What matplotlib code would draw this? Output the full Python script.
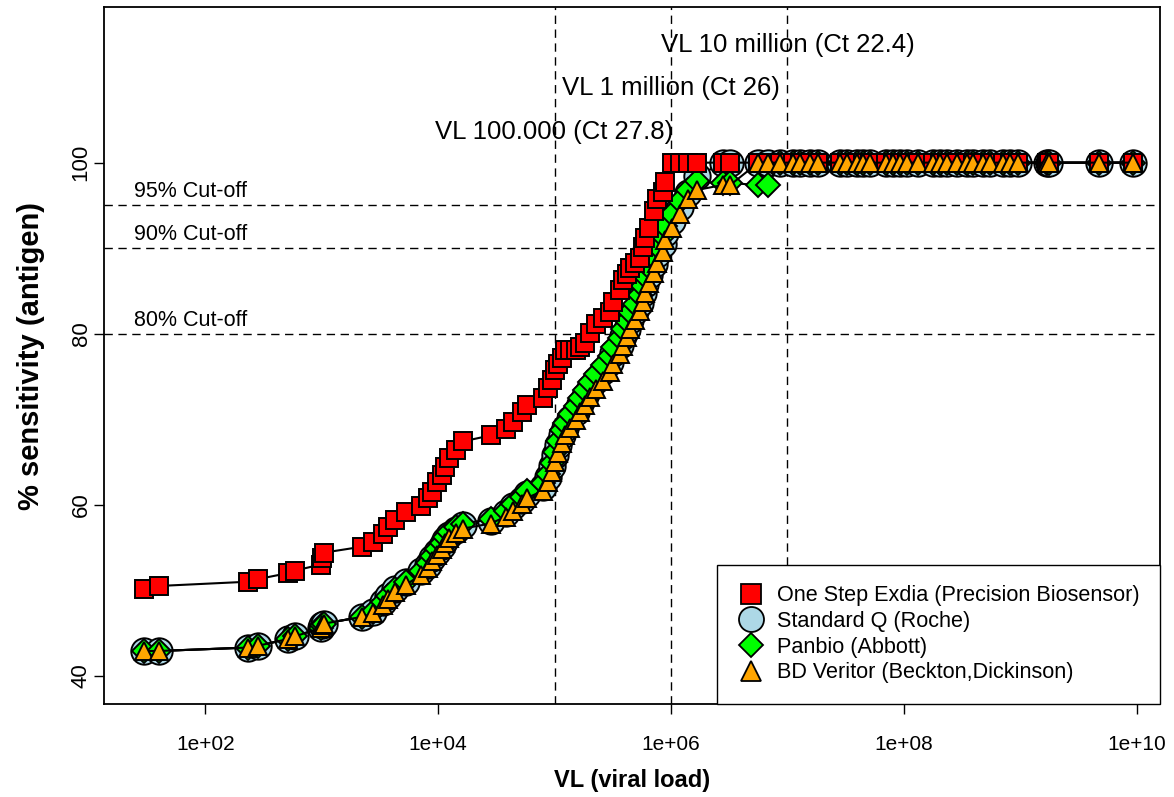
import numpy as np
import matplotlib
matplotlib.use("Agg")
import matplotlib.pyplot as plt
from matplotlib.lines import Line2D

plt.rcParams['font.family'] = ['Liberation Sans', 'DejaVu Sans']

# ---- data (log10 of viral load, shared sample thresholds) ----
log_vl = [1.47, 1.60, 2.37, 2.45, 2.71, 2.77, 2.99, 3.00, 3.02, 3.35,
          3.44, 3.53, 3.57, 3.63, 3.72, 3.85, 3.91, 3.95, 3.99, 4.03,
          4.06, 4.09, 4.15, 4.21, 4.45, 4.58, 4.64, 4.72, 4.76, 4.90,
          4.94, 4.98, 5.00, 5.03, 5.06, 5.09, 5.13, 5.18, 5.22, 5.26,
          5.30, 5.36, 5.42, 5.48, 5.50, 5.56, 5.59, 5.62, 5.65, 5.69,
          5.73, 5.76, 5.78, 5.81, 5.85, 5.88, 5.93, 5.95, 6.01, 6.08,
          6.15, 6.22, 6.45, 6.51, 6.75, 6.83, 6.94, 7.05, 7.11, 7.19,
          7.26, 7.45, 7.51, 7.60, 7.65, 7.71, 7.85, 7.91, 7.97, 8.03,
          8.12, 8.25, 8.31, 8.37, 8.46, 8.54, 8.59, 8.68, 8.74, 8.85,
          8.91, 8.98, 9.23, 9.25, 9.68, 9.97]

top_100 = [100, 100, 100, 100, 100, 100, 100, 100, 100, 100,
           100, 100, 100, 100, 100, 100, 100, 100, 100, 100,
           100, 100, 100, 100, 100, 100, 100, 100, 100, 100]

exdia = [50.1, 50.5, 51.0, 51.3, 52.0, 52.3, 53.0, 53.8, 54.4, 55.1,
         55.6, 56.6, 57.4, 58.2, 59.2, 59.9, 60.8, 61.5, 62.6, 63.5,
         64.4, 65.5, 66.4, 67.4, 68.1, 68.9, 69.7, 70.8, 71.7, 72.5,
         73.7, 74.6, 75.8, 76.5, 77.2, 78.1, 78.1, 78.1, 78.5, 78.9,
         80.1, 81.1, 81.8, 82.5, 83.7, 85.1, 86.3, 87.0, 87.7, 88.3,
         88.9, 90.1, 91.2, 92.4, 94.3, 95.7, 96.6, 97.7, 100, 100,
         100, 100, 100, 100, 100, 100] + top_100

standard_q = [42.9, 42.9, 43.3, 43.5, 44.3, 44.6, 45.6, 45.9, 46.1, 46.9,
              47.5, 48.6, 49.3, 50.2, 51.0, 52.2, 53.0, 53.8, 54.5, 55.2,
              55.9, 56.5, 57.1, 57.6, 58.1, 59.0, 59.8, 60.6, 61.3, 62.1,
              63.2, 64.5, 65.8, 67.0, 68.2, 69.0, 70.0, 70.9, 71.8, 72.7,
              73.6, 74.6, 75.6, 76.7, 77.7, 78.7, 79.7, 80.6, 81.6, 82.6,
              83.6, 84.7, 85.8, 86.9, 88.1, 89.3, 90.5, 91.8, 93.2, 94.8,
              96.5, 98.4, 100, 100, 100, 100] + top_100

panbio = [42.9, 42.9, 43.3, 43.5, 44.3, 44.6, 45.6, 45.9, 46.1, 46.9,
          47.5, 48.6, 49.3, 50.2, 51.0, 52.2, 53.2, 54.0, 54.8, 55.5,
          56.2, 56.8, 57.4, 57.8, 58.3, 59.3, 60.1, 60.9, 61.6, 62.5,
          63.6, 64.9, 66.2, 67.5, 68.7, 69.6, 70.6, 71.5, 72.5, 73.4,
          74.3, 75.3, 76.3, 77.4, 78.4, 79.5, 80.5, 81.5, 82.5, 83.5,
          84.5, 85.6, 86.7, 87.8, 89.0, 90.2, 91.4, 92.6, 94.0, 95.5,
          96.8, 97.8, 97.6, 97.6, 97.4, 97.4] + top_100

bd_veritor = [42.9, 42.9, 43.3, 43.5, 44.3, 44.6, 45.6, 45.9, 46.1, 46.9,
              47.3, 48.3, 49.0, 49.8, 50.6, 51.8, 52.6, 53.4, 54.1, 54.8,
              55.5, 56.1, 56.7, 57.2, 57.8, 58.6, 59.3, 60.1, 60.8, 61.6,
              62.6, 63.8, 65.0, 66.1, 67.2, 68.1, 69.0, 69.9, 70.8, 71.7,
              72.6, 73.5, 74.5, 75.5, 76.5, 77.6, 78.6, 79.6, 80.6, 81.6,
              82.6, 83.7, 84.8, 85.9, 87.1, 88.3, 89.6, 90.9, 92.4, 94.0,
              95.8, 96.8, 97.4, 97.4, 100, 100] + top_100

legend_labels = ["One Step Exdia (Precision Biosensor)", "Standard Q (Roche)",
                 "Panbio (Abbott)", "BD Veritor (Beckton,Dickinson)"]
cutoffs = [95, 90, 80]
cutoff_labels = ["95% Cut-off", "90% Cut-off", "80% Cut-off"]
vl_marks = [1e5, 1e6, 1e7]
vl_labels = ["VL 100.000 (Ct 27.8)", "VL 1 million (Ct 26)", "VL 10 million (Ct 22.4)"]
vl_label_y = [103.6, 108.7, 113.7]
xtick_vals = [1e2, 1e4, 1e6, 1e8, 1e10]
xtick_labels = ["1e+02", "1e+04", "1e+06", "1e+08", "1e+10"]
ytick_vals = [40, 60, 80, 100]

vl = np.power(10.0, np.array(log_vl))

W, H = 1174, 797
fig = plt.figure(figsize=(W / 100, H / 100), dpi=100)
L, R, T, B = 104, 1160, 7, 704
ax = fig.add_axes([L / W, 1 - B / H, (R - L) / W, (B - T) / H])
ax.set_xscale('log')
ax.set_xlim(10 ** 1.13, 10 ** 10.2)
ax.set_ylim(36.7, 118.2)

# reference lines
for c in cutoffs:
    ax.axhline(c, color='black', lw=1.0, ls=(0, (6, 4)), zorder=1)
for v in vl_marks:
    ax.axvline(v, color='black', lw=1.0, ls=(0, (6, 4)), zorder=1)

edge = 'black'
ew = 1.4
ax.plot(vl, standard_q, '-', color='black', lw=1.5, marker='o', ms=19,
        mfc='#ADD8E6', mec=edge, mew=ew, zorder=3)
ax.plot(vl, panbio, '-', color='black', lw=1.5, marker='D', ms=12,
        mfc='#00FF00', mec=edge, mew=ew, zorder=4)
ax.plot(vl, exdia, '-', color='black', lw=1.5, marker='s', ms=13,
        mfc='#FF0000', mec=edge, mew=ew, zorder=5)
ax.plot(vl, bd_veritor, '-', color='black', lw=1.5, marker='^', ms=13,
        mfc='#FFA500', mec=edge, mew=ew, zorder=6)

# text annotations
for c, lab in zip(cutoffs, cutoff_labels):
    ax.text(10 ** 1.87, c + 1.6, lab, ha='center', va='center', fontsize=15.5)
for v, lab, yy in zip(vl_marks, vl_labels, vl_label_y):
    ax.text(v, yy, lab, ha='center', va='center', fontsize=18.5)

ax.set_xticks(xtick_vals)
ax.set_xticklabels(xtick_labels)
ax.xaxis.set_minor_locator(matplotlib.ticker.NullLocator())
ax.set_yticks(ytick_vals)
ax.set_yticklabels([str(v) for v in ytick_vals], rotation=90, va='center')
ax.tick_params(axis='both', length=7, width=1.0, labelsize=15, direction='out')
ax.tick_params(axis='x', pad=15)
ax.tick_params(axis='y', pad=2, labelsize=16)
for s in ax.spines.values():
    s.set_linewidth(1.3)

ax.set_xlabel("VL (viral load)", fontsize=17, fontweight='bold', labelpad=11)
ax.set_ylabel("% sensitivity (antigen)", fontsize=21, fontweight='bold', labelpad=18)

handles = [
    Line2D([], [], ls='none', marker='s', ms=14, mfc='#FF0000', mec='black', mew=1.3),
    Line2D([], [], ls='none', marker='o', ms=18, mfc='#ADD8E6', mec='black', mew=1.3),
    Line2D([], [], ls='none', marker='D', ms=12, mfc='#00FF00', mec='black', mew=1.3),
    Line2D([], [], ls='none', marker='^', ms=15, mfc='#FFA500', mec='black', mew=1.3),
]
leg = ax.legend(handles, legend_labels, loc='lower right', fontsize=15.6,
                frameon=True, fancybox=False, edgecolor='black', framealpha=1,
                borderaxespad=0, handlelength=1.2, handletextpad=0.6,
                labelspacing=0.22, borderpad=0.95)
leg.get_frame().set_linewidth(1.0)
leg.set_zorder(10)

fig.savefig("out.png", dpi=100)
